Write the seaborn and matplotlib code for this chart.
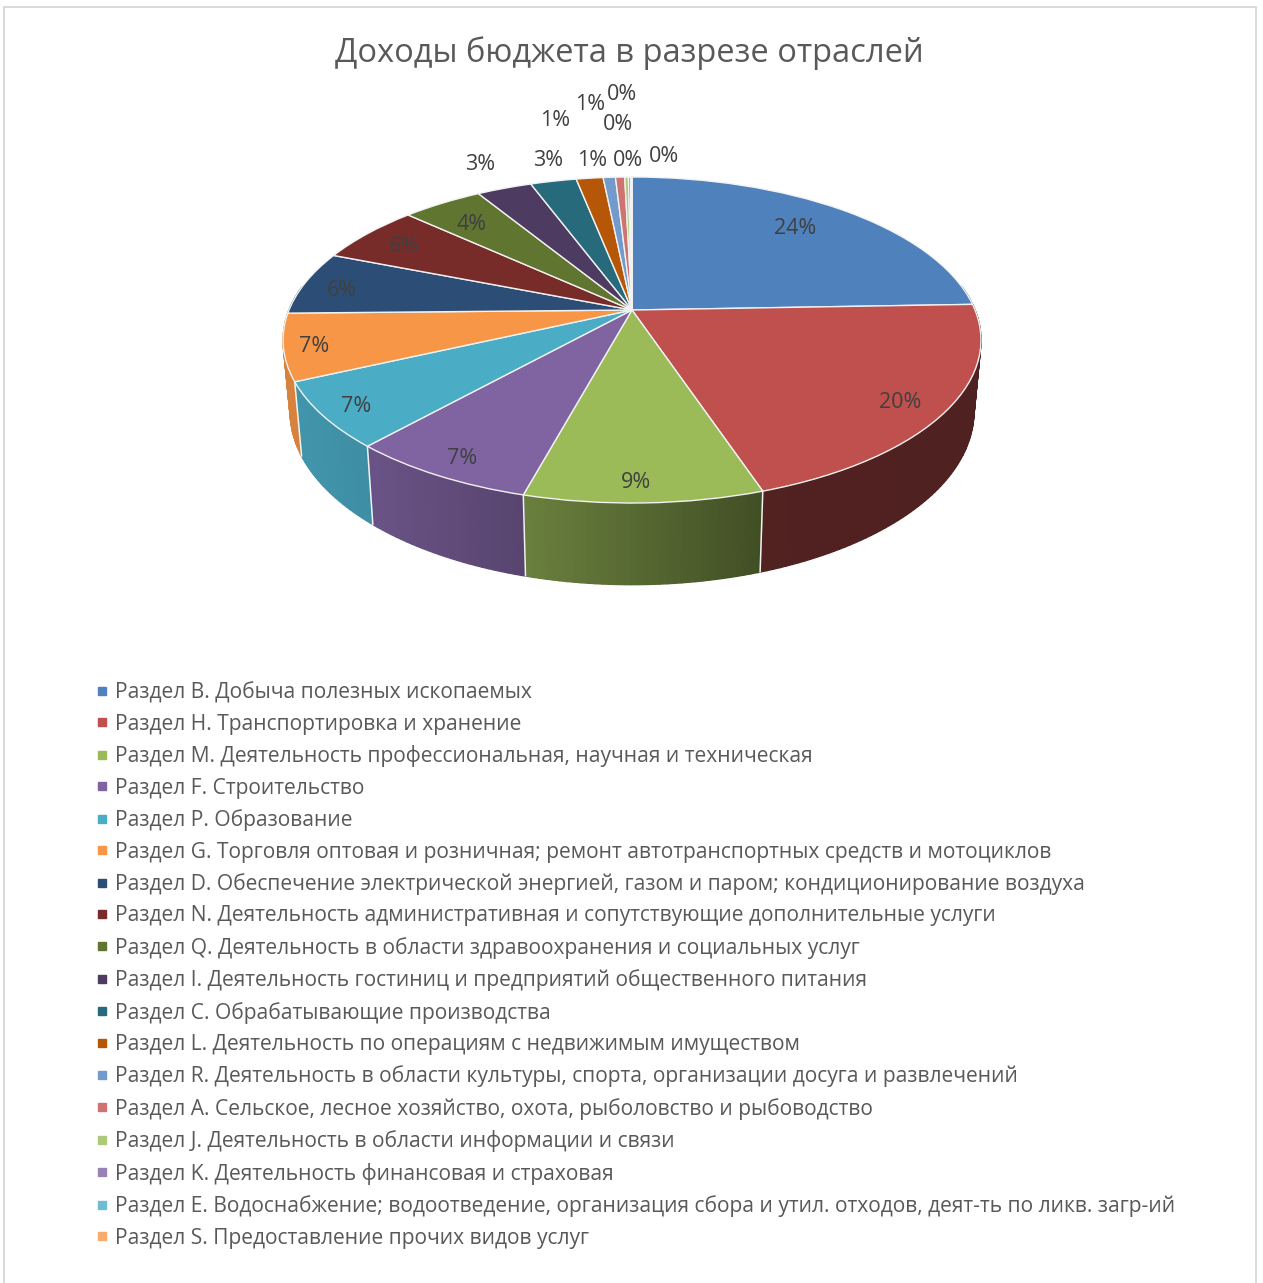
import matplotlib
matplotlib.use("Agg")
import matplotlib.pyplot as plt
from matplotlib.lines import Line2D
from matplotlib.transforms import Transform
import numpy as np
import seaborn as sns

W, H = 1263, 1283

title = "Доходы бюджета в разрезе отраслей"

sections = [
    "Раздел B. Добыча полезных ископаемых",
    "Раздел H. Транспортировка и хранение",
    "Раздел M. Деятельность профессиональная, научная и техническая",
    "Раздел F. Строительство",
    "Раздел P. Образование",
    "Раздел G. Торговля оптовая и розничная; ремонт автотранспортных средств и мотоциклов",
    "Раздел D. Обеспечение электрической энергией, газом и паром; кондиционирование воздуха",
    "Раздел N. Деятельность административная и сопутствующие дополнительные услуги",
    "Раздел Q. Деятельность в области здравоохранения и социальных услуг",
    "Раздел I. Деятельность гостиниц и предприятий общественного питания",
    "Раздел C. Обрабатывающие производства",
    "Раздел L. Деятельность по операциям с недвижимым имуществом",
    "Раздел R. Деятельность в области культуры, спорта, организации досуга и развлечений",
    "Раздел A. Сельское, лесное хозяйство, охота, рыболовство и рыбоводство",
    "Раздел J. Деятельность в области информации и связи",
    "Раздел K. Деятельность финансовая и страховая",
    "Раздел E. Водоснабжение; водоотведение, организация сбора и утил. отходов, деят-ть по ликв. загр-ий",
    "Раздел S. Предоставление прочих видов услуг",
]
shares = [24.45, 20.5, 9.3, 7.4, 6.51, 6.6, 6.35, 5.85, 4.46, 3.05, 2.55, 1.49, 0.68, 0.51, 0.2, 0.12, 0.05, 0.03]
colours = ["#4f81bd", "#c0504d", "#9bbb59", "#8064a2", "#4bacc6", "#f79646",
           "#2c4d75", "#772c2a", "#5f7530", "#4d3b62", "#276a7c", "#b65708",
           "#729aca", "#cd7371", "#afc97a", "#9983b5", "#6fbdd3", "#f9ab6b"]

# where excel put each percent label, in pixels of the picture
label_x = [795, 900, 636, 462, 356, 314, 342, 404, 472, 480, 548, 592, 555, 590, 622, 618, 628, 664]
label_y = [228, 402, 482, 458, 406, 346, 290, 247, 224, 164, 160, 160, 120, 105, 95, 124, 160, 156]

# wall brightness from left to right of the picture
shade_x = [290, 375, 525, 760, 980]
shade_k = [0.87, 0.82, 0.68, 0.42, 0.41]


class PieView(Transform):
    """perspective view of the unit circle, output in picture pixels"""
    input_dims = 2
    output_dims = 2
    is_separable = False
    has_inverse = False

    def __init__(self, cx, cy, dx, dy, tilt):
        super().__init__()
        self.cx, self.cy, self.dx, self.dy, self.tilt = cx, cy, dx, dy, tilt

    def transform_non_affine(self, values):
        values = np.asarray(values, dtype=float)
        x, y = values[:, 0], values[:, 1]
        w = 1 + self.tilt * y
        return np.column_stack([self.cx + self.dx * x / w, self.cy - self.dy * y / w])


sns.set_theme(style="white")
plt.rcParams["font.family"] = ["Open Sans", "DejaVu Sans"]

fig = plt.figure(figsize=(W / 100, H / 100), dpi=100)
ax = fig.add_axes([0, 0, 1, 1])

top_face = PieView(632, 310, 343, 157.5, 0.184)
low_face = PieView(632, 380, 336, 167, 0.184)

wedges, _ = ax.pie(shares, colors=sns.color_palette(colours), startangle=90, counterclock=False,
                   wedgeprops={"edgecolor": "#f2f2f2", "linewidth": 1.0})
ax.set_aspect("auto")
ax.set_xlim(0, W)
ax.set_ylim(H, 0)
ax.axis("off")

for wedge in wedges:
    wedge.set_transform(top_face + ax.transData)
    wedge.set_zorder(3)

    # side wall, cut in thin strips for the gradient
    base = np.array(wedge.get_facecolor()[:3])
    angles = np.radians(np.arange(wedge.theta1, wedge.theta2 + 1, 1.0))
    angles = np.append(angles[angles < np.radians(wedge.theta2)], np.radians(wedge.theta2))
    circle = np.column_stack([np.cos(angles), np.sin(angles)])
    up = top_face.transform_non_affine(circle)
    down = low_face.transform_non_affine(circle)
    for i in range(len(angles) - 1):
        if circle[i, 1] > 0.15 and circle[i + 1, 1] > 0.15:
            continue
        k = np.interp(up[i, 0], shade_x, shade_k)
        ax.fill([up[i, 0], up[i + 1, 0], down[i + 1, 0], down[i, 0]],
                [up[i, 1], up[i + 1, 1], down[i + 1, 1], down[i, 1]],
                color=base * k, lw=1.0, zorder=1)
    if circle[0, 1] < -0.1:
        ax.plot([up[0, 0], down[0, 0]], [up[0, 1], down[0, 1]], color="#f2f2f2", lw=1.1, zorder=2)

for x, y, share in zip(label_x, label_y, shares):
    ax.text(x, y, f"{share:.0f}%", ha="center", va="center", fontsize=15.5, color="#404040", zorder=5)

ax.text(629, 53, title, ha="center", va="center", fontsize=23.5, color="#595959")

handles = [Line2D([], [], ls="", marker="s", ms=5.8, color=c) for c in colours]
ax.legend(handles, sections, loc="upper left", bbox_to_anchor=(91 / W, 1 - 682 / H), frameon=False,
          fontsize=15.15, labelcolor="#595959", labelspacing=0.498, handlelength=1.0, handletextpad=0.15,
          borderpad=0, borderaxespad=0)

# light frame of the embedded chart
for xs, ys in [([3.5, 3.5], [H, 6.5]), ([3.5, 1255.5], [6.5, 6.5]), ([1255.5, 1255.5], [6.5, H])]:
    ax.plot(xs, ys, color="#d9d9d9", lw=1.4, zorder=0)

fig.savefig("out.png", dpi=100)
